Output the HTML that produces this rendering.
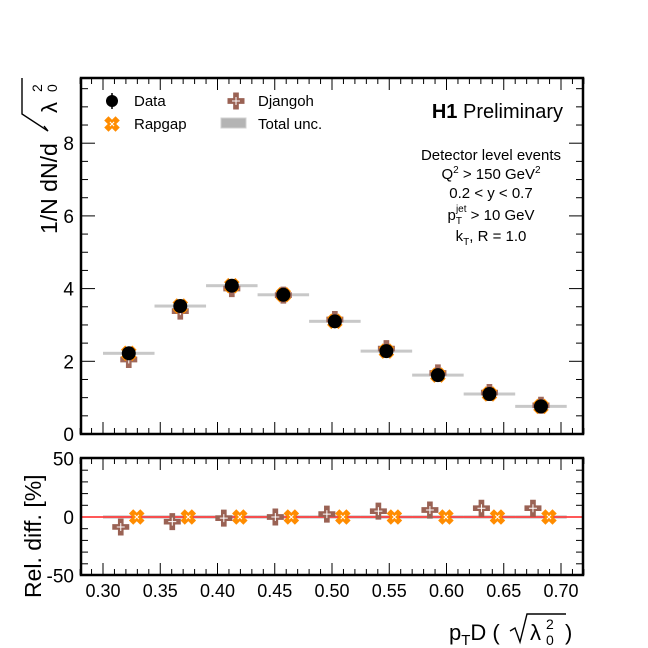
<!DOCTYPE html>
<html><head><meta charset="utf-8"><style>
html,body{margin:0;padding:0;background:#fff;}
svg{display:block;font-family:"Liberation Sans",Arial,sans-serif;}
</style></head><body>
<svg id="s" width="648" height="648" viewBox="0 0 648 648" xmlns="http://www.w3.org/2000/svg">
<rect width="648" height="648" fill="#fff"/>
<g id="g"></g>
<g font-size="15" fill="#000">
<circle cx="112" cy="101" r="6" fill="#000"/><line x1="112" y1="93" x2="112" y2="109" stroke="#000" stroke-width="1.5"/>
<text x="134" y="106">Data</text>
<text x="134" y="129">Rapgap</text>
<text x="258" y="106">Djangoh</text>
<text x="258" y="129">Total unc.</text>
<rect x="221" y="118" width="25" height="10" fill="#b4b4b4" stroke="#d0d0d0"/>
</g>
<g font-size="20" fill="#000"><text x="563" y="118" text-anchor="end"><tspan font-weight="bold">H1</tspan> Preliminary</text></g>
<g font-size="15" fill="#000" text-anchor="middle">
<text x="491" y="160">Detector level events</text>
<text x="491" y="179">Q<tspan dy="-6" font-size="10">2</tspan><tspan dy="6"> &gt; 150 GeV</tspan><tspan dy="-6" font-size="10">2</tspan></text>
<text x="491" y="198">0.2 &lt; y &lt; 0.7</text>
<text x="491" y="220">p<tspan dy="4" font-size="10">T</tspan><tspan dx="-6" dy="-12" font-size="10">jet</tspan><tspan dy="8"> &gt; 10 GeV</tspan></text>
<text x="491" y="241">k<tspan dy="4" font-size="10">T</tspan><tspan dy="-4">, R = 1.0</tspan></text>
</g>
<g font-size="22" fill="#000">
<text transform="translate(57,234) rotate(-90)" font-size="23">1/N dN/d</text>
<text transform="translate(41,598) rotate(-90)" font-size="23">Rel. diff. [%]</text>
<text x="449" y="640">p<tspan dy="5" font-size="15">T</tspan><tspan dy="-5">D (</tspan></text>
<text x="565" y="640">)</text>
<text x="530" y="640">λ</text>
<text x="546" y="629" font-size="14">2</text>
<text x="546" y="645" font-size="14">0</text>
</g>
<path d="M510,631 L515,628 L520,642 L527,614 L566,614" fill="none" stroke="#000" stroke-width="1.4"/>
<g font-size="22" fill="#000">
<text transform="translate(57,113) rotate(-90)">λ</text>
<text transform="translate(42,92) rotate(-90)" font-size="14">2</text>
<text transform="translate(57,92) rotate(-90)" font-size="14">0</text>
</g>
<path d="M44,126 L48,131 L22,114 L22,78" fill="none" stroke="#000" stroke-width="1.4"/>
</svg>
<script>
var g=document.getElementById('g'),h='';
function X(v){return 103+(v-0.3)*1145;}
function YT(v){return 434-v*36.35;}
function YB(v){return 517-v*1.17;}
function L(x1,y1,x2,y2,c,w){h+='<line x1="'+x1+'" y1="'+y1+'" x2="'+x2+'" y2="'+y2+'" stroke="'+(c||'#000')+'" stroke-width="'+(w||1)+'"/>';}
function T(x,y,t,a,fs){h+='<text x="'+x+'" y="'+y+'" text-anchor="'+(a||'middle')+'" font-size="'+(fs||18)+'">'+t+'</text>';}
var L0=81,R0=583;
for(var i=0;i<=44;i++){var v=0.28+i*0.01,x=X(v);var maj=Math.abs((Math.round(v*100))%5)==0;var len=maj?12:6;
 L(x,434,x,434-len);L(x,78,x,78+len);L(x,575,x,575-len);L(x,458,x,458+len);}
for(var k=0;k<=8;k++){T(X(0.3+k*0.05),597,(0.3+k*0.05).toFixed(2));}
for(var v=0;v<=9.75;v+=0.5){var y=YT(v);var maj=Math.abs(v%2)<1e-6;var len=maj?14:7;L(L0,y,L0+len,y);L(R0,y,R0-len,y);}
[0,2,4,6,8].forEach(function(v){T(74,YT(v)+7,v,'end',19);});
for(var v=-50;v<=50;v+=10){var y=YB(v);var maj=v%50==0;var len=maj?14:7;L(L0,y,L0+len,y);L(R0,y,R0-len,y);}
[50,0,-50].forEach(function(v){T(74,YB(v)+7,v,'end',19);});
var d=[2.22,3.52,4.08,3.83,3.1,2.28,1.62,1.1,0.76],dj=[2.05,3.38,4.0,3.82,3.15,2.35,1.68,1.14,0.79],rel=[-8.5,-4,-1,0,2.5,5,6,7.5,7.5];
function cross(cx,cy,c,s){var a=s/3;h+='<path d="M'+(cx-a/2)+','+(cy-s/2)+'h'+a+'v'+a+'h'+a+'v'+a+'h'+(-a)+'v'+a+'h'+(-a)+'v'+(-a)+'h'+(-a)+'v'+(-a)+'h'+a+'z" fill="'+c+'"/>';h+='<path d="M'+cx+','+(cy-4)+'v8M'+(cx-4)+','+cy+'h8" stroke="#fff" stroke-width="1"/>';}
function xm(cx,cy){h+='<g transform="translate('+cx+','+cy+') rotate(45)"><path d="M-3,-8h6v5h5v6h-5v5h-6v-5h-5v-6h5z" fill="#ff8c00"/><path d="M0,-3v6M-3,0h6" stroke="#fff" stroke-width="1"/></g>';}
for(var i=0;i<9;i++){var lo=0.3+i*0.045;
 h+='<rect x="'+X(lo)+'" y="'+(YT(d[i])-1.5)+'" width="'+(0.045*1145)+'" height="3" fill="#c8c8c8"/>';
 h+='<rect x="'+X(lo)+'" y="'+(YB(0)-2)+'" width="'+(0.045*1145)+'" height="4" fill="#d8d8d8"/>';}
L(L0,YB(0),R0,YB(0),'#ff2020',1.6);
for(var i=0;i<9;i++){var x=X(0.3+i*0.045+0.0225);
 cross(x,YT(dj[i]),'#a0685a',17);xm(x,YT(d[i]));
 h+='<circle cx="'+x+'" cy="'+YT(d[i])+'" r="7" fill="#000"/>';
 cross(x-8,YB(rel[i]),'#9a6254',17);xm(x+8,YB(0));}
cross(236,101,'#9a6254',17);xm(112,124);
h+='<rect x="'+L0+'" y="78" width="'+(R0-L0)+'" height="356" fill="none" stroke="#000" stroke-width="2.5"/>';
h+='<rect x="'+L0+'" y="458" width="'+(R0-L0)+'" height="117" fill="none" stroke="#000" stroke-width="2.5"/>';
g.innerHTML=h;
</script>
</body></html>
